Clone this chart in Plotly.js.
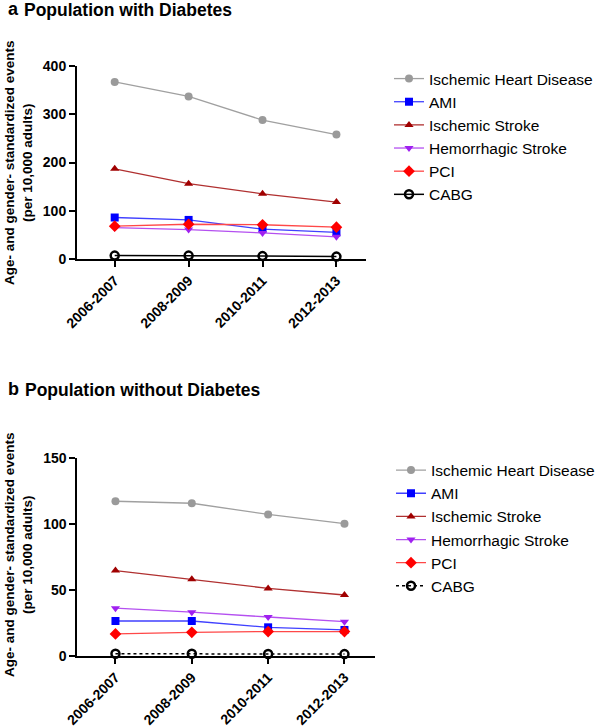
<!DOCTYPE html>
<html>
<head>
<meta charset="utf-8">
<script src="https://cdn.plot.ly/plotly-3.0.1.min.js"></script>
<style>
  html, body { margin: 0; padding: 0; background: #fff; }
  #chart { width: 614px; height: 728px; }
</style>
</head>
<body>
<div id="chart"></div>
<script>
// event rates per 10,000 adults
const periods = ['2006-2007', '2008-2009', '2010-2011', '2012-2013'];
const seriesNames = ['Ischemic Heart Disease', 'AMI', 'Ischemic Stroke', 'Hemorrhagic Stroke', 'PCI', 'CABG'];

// panel a: with diabetes
const ihdWith = [367, 337, 288, 258];
const amiWith = [86, 81, 62, 55];
const isWith = [187, 156, 135, 118];
const hsWith = [65, 61, 54, 46];
const pciWith = [68, 72, 71, 66];
const cabgWith = [7, 7, 6, 5];

// panel b: without diabetes
const ihdWithout = [117, 115.5, 107, 100];
const amiWithout = [26.3, 26.3, 21.5, 19.5];
const isWithout = [64.5, 58, 51, 46];
const hsWithout = [36, 33, 29.3, 25.8];
const pciWithout = [16.5, 17.7, 18.3, 18.3];
const cabgWithout = [1.5, 1.5, 1.3, 1.2];

const W = 614, H = 728;
const px = (x) => x / W;
const py = (y) => 1 - y / H;
const FONT = 'Liberation Sans, Arial, sans-serif';

const styles = [
  { line: '#a0a0a0', marker: '#9a9a9a', symbol: 'circle', size: 8 },
  { line: '#4040ff', marker: '#0000ff', symbol: 'square', size: 8 },
  { line: '#b03030', marker: '#a00000', symbol: 'triangle-up', size: 8 },
  { line: '#b450f0', marker: '#a020f0', symbol: 'triangle-down', size: 8 },
  { line: '#ff4848', marker: '#ff0000', symbol: 'diamond', size: 9 },
  { line: '#000000', marker: '#000000', symbol: 'circle-open', size: 8 }
];

function makeTraces(values, xa, ya, legendId, cabgDash) {
  return values.map((vals, i) => {
    const s = styles[i];
    return {
      x: periods,
      y: vals,
      name: seriesNames[i],
      type: 'scatter',
      mode: 'lines+markers',
      xaxis: xa,
      yaxis: ya,
      legend: legendId,
      cliponaxis: false,
      line: { color: s.line, width: i === 5 ? 1.5 : 1.3, dash: i === 5 ? cabgDash : 'solid' },
      marker: {
        color: s.marker,
        symbol: s.symbol,
        size: s.size,
        line: i === 5 ? { color: '#000', width: 2.5 } : { width: 0 }
      }
    };
  });
}

const traces = [
  ...makeTraces([ihdWith, amiWith, isWith, hsWith, pciWith, cabgWith], 'x', 'y', 'legend', 'solid'),
  ...makeTraces([ihdWithout, amiWithout, isWithout, hsWithout, pciWithout, cabgWithout], 'x2', 'y2', 'legend2', 'dot')
];

const yTickFont = { family: FONT, size: 14, color: '#000', weight: 'bold' };
const xTickFont = { family: FONT, size: 14, color: '#000', weight: 'bold' };

function xAxis(domain, range, anchor) {
  return {
    type: 'category', domain: domain, range: range, anchor: anchor,
    showline: true, linewidth: 2, linecolor: '#000',
    ticks: 'outside', ticklen: 6, tickwidth: 2, tickcolor: '#000',
    tickangle: -45, tickfont: xTickFont, showgrid: false, zeroline: false
  };
}

function yAxis(domain, range, dtick, anchor) {
  return {
    domain: domain, range: range, dtick: dtick, anchor: anchor,
    showline: true, linewidth: 2, linecolor: '#000',
    ticks: 'outside', ticklen: 6, tickwidth: 2, tickcolor: '#000',
    tickfont: yTickFont, showgrid: false, zeroline: false
  };
}

const legendStyle = {
  xanchor: 'left', yanchor: 'top', bgcolor: 'rgba(0,0,0,0)', borderwidth: 0,
  font: { family: FONT, size: 15.5, color: '#000' }, traceorder: 'normal'
};

const yTitle = 'Age- and gender- standardized events<br>(per 10,000 adults)';

const layout = {
  width: W,
  height: H,
  margin: { l: 0, r: 0, t: 0, b: 0 },
  paper_bgcolor: '#fff',
  plot_bgcolor: '#fff',
  showlegend: true,
  xaxis: xAxis([px(77), px(366)], [-0.51, 3.4], 'y'),
  yaxis: yAxis([py(259), py(66)], [0, 400], 100, 'x'),
  xaxis2: xAxis([px(77.3), px(375)], [-0.5, 3.4], 'y2'),
  yaxis2: yAxis([py(655.7), py(457.7)], [0, 150], 50, 'x2'),
  legend: Object.assign({ x: px(389), y: py(62) }, legendStyle),
  legend2: Object.assign({ x: px(391), y: py(453.5) }, legendStyle),
  annotations: [
    { text: 'a', x: px(6), y: py(9), xref: 'paper', yref: 'paper', xanchor: 'left', yanchor: 'middle',
      showarrow: false, font: { family: FONT, size: 18, color: '#000', weight: 'bold' } },
    { text: 'Population with Diabetes', x: px(22), y: py(10), xref: 'paper', yref: 'paper', xanchor: 'left', yanchor: 'middle',
      showarrow: false, font: { family: FONT, size: 17.5, color: '#000', weight: 'bold' } },
    { text: 'b', x: px(6), y: py(389), xref: 'paper', yref: 'paper', xanchor: 'left', yanchor: 'middle',
      showarrow: false, font: { family: FONT, size: 18, color: '#000', weight: 'bold' } },
    { text: 'Population without Diabetes', x: px(23), y: py(390), xref: 'paper', yref: 'paper', xanchor: 'left', yanchor: 'middle',
      showarrow: false, font: { family: FONT, size: 17.5, color: '#000', weight: 'bold' } },
    { text: yTitle, x: px(18), y: py(163), xref: 'paper', yref: 'paper', xanchor: 'center', yanchor: 'middle',
      textangle: -90, showarrow: false, font: { family: FONT, size: 13.5, color: '#000', weight: 'bold' } },
    { text: yTitle, x: px(18), y: py(555), xref: 'paper', yref: 'paper', xanchor: 'center', yanchor: 'middle',
      textangle: -90, showarrow: false, font: { family: FONT, size: 13.5, color: '#000', weight: 'bold' } }
  ]
};

Plotly.newPlot('chart', traces, layout, { staticPlot: true });
</script>
</body>
</html>
